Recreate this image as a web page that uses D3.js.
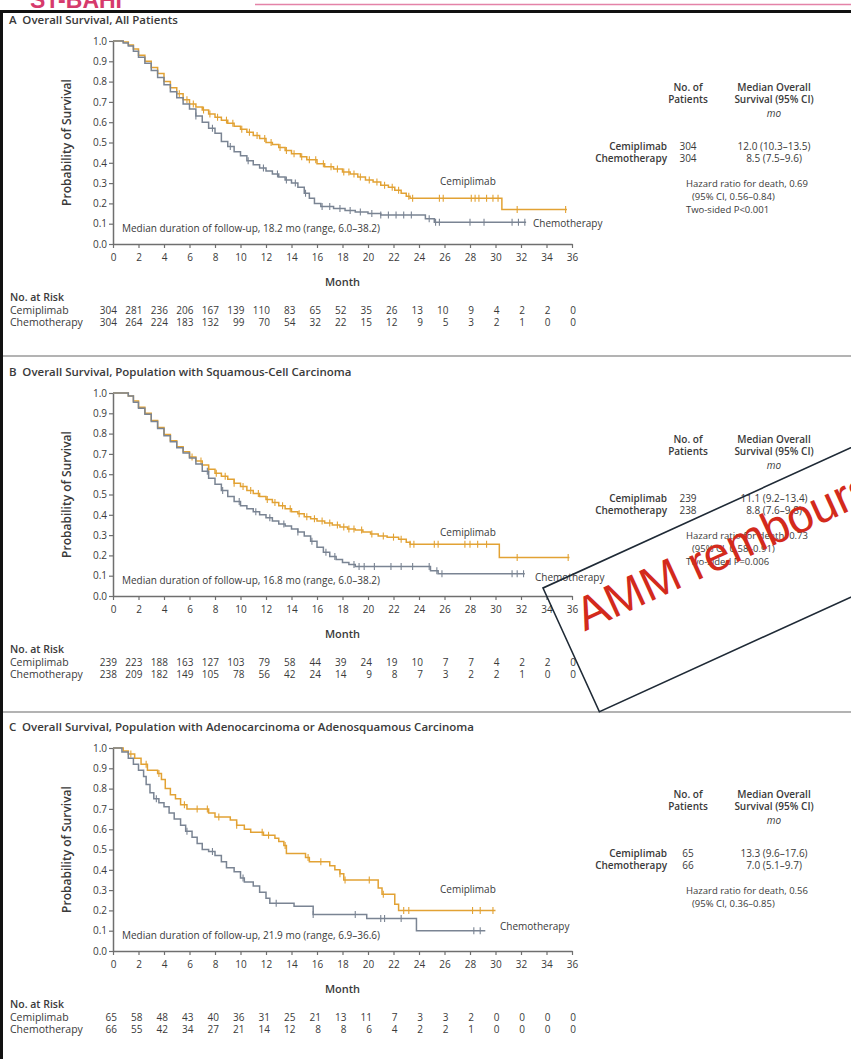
<!DOCTYPE html>
<html>
<head>
<meta charset="utf-8">
<script src="https://cdn.jsdelivr.net/npm/d3@7"></script>
<style>
  body { margin: 0; background: #fff; }
  svg { display: block; }
  text { font-family: "Open Sans", sans-serif; fill: #3a3a3a; }
</style>
</head>
<body>
<svg id="chart" width="851" height="1059"></svg>
<script>
// ---- data ----
const monthTicks = d3.range(0, 37, 2);
const survTicks = d3.range(0, 11).map(d => d / 10);
const armNames = ["Cemiplimab", "Chemotherapy"];

const titleA = "A\u2002Overall Survival, All Patients";
const titleB = "B\u2002Overall Survival, Population with Squamous-Cell Carcinoma";
const titleC = "C\u2002Overall Survival, Population with Adenocarcinoma or Adenosquamous Carcinoma";

const followA = "Median duration of follow-up, 18.2 mo (range, 6.0–38.2)";
const followB = "Median duration of follow-up, 16.8 mo (range, 6.0–38.2)";
const followC = "Median duration of follow-up, 21.9 mo (range, 6.9–36.6)";

// [month, probability of survival]
const kmA_cemi = [[0,1],[0.8,0.995],[1.2,0.98],[1.6,0.96],[2,0.93],[2.5,0.9],[3,0.87],[3.5,0.84],[4,0.8],[4.5,0.77],[5,0.74],[5.5,0.71],[6,0.69],[6.5,0.675],[7,0.66],[7.5,0.64],[8,0.625],[8.5,0.61],[9,0.595],[9.5,0.58],[10,0.565],[10.5,0.55],[11,0.535],[11.5,0.52],[12,0.5],[12.5,0.49],[13,0.475],[13.5,0.46],[14,0.445],[14.7,0.43],[15.2,0.415],[16,0.395],[16.6,0.38],[17.3,0.37],[18,0.355],[18.6,0.345],[19.2,0.33],[19.8,0.315],[20.4,0.305],[21,0.29],[21.6,0.28],[22.1,0.265],[22.6,0.25],[23,0.235],[23.3,0.225],[30.5,0.17],[35.6,0.17]];
const kmA_chemo = [[0,1],[0.8,0.99],[1.2,0.975],[1.6,0.95],[2,0.92],[2.5,0.89],[3,0.855],[3.5,0.82],[4,0.785],[4.5,0.75],[5,0.72],[5.5,0.69],[6,0.665],[6.5,0.63],[7,0.6],[7.5,0.57],[8,0.545],[8.5,0.505],[9,0.48],[9.5,0.455],[10,0.435],[10.5,0.41],[11,0.39],[11.5,0.375],[12,0.36],[12.5,0.345],[13,0.33],[13.5,0.315],[14,0.3],[14.5,0.28],[15,0.25],[15.4,0.225],[15.8,0.2],[16.3,0.185],[17.3,0.175],[18.2,0.165],[19,0.158],[20,0.15],[21,0.143],[24.5,0.125],[25.2,0.107],[32.4,0.107]];
const censA_cemi = [5.2,5.8,6.3,7.1,7.6,8.2,8.9,9.4,10.1,10.7,11.3,11.9,12.4,13.1,13.6,14.2,14.8,15.4,15.9,16.5,17.1,17.6,18.1,18.5,18.9,19.4,20.1,20.7,21.3,21.9,22.4,23.2,23.5,25.6,25.9,28.1,28.4,28.7,29.3,29.8,30.2,31.7,35.5];
const censA_chemo = [6.5,7.8,9.2,10.6,11.8,12.9,13.6,14.3,15.1,16.4,17.0,17.8,18.6,19.4,20.3,21.0,21.6,22.2,22.8,23.4,24.8,25.3,25.6,28.0,29.1,31.3,31.8,32.3];

const kmB_cemi = [[0,1],[1.2,0.985],[1.6,0.96],[2,0.93],[2.5,0.9],[3,0.865],[3.5,0.83],[4,0.795],[4.5,0.765],[5,0.735],[5.5,0.71],[6,0.685],[6.5,0.665],[7,0.645],[7.5,0.625],[8,0.605],[8.5,0.59],[9,0.575],[9.5,0.555],[10,0.54],[10.5,0.52],[11,0.505],[11.5,0.49],[12,0.475],[12.5,0.46],[13,0.445],[13.5,0.43],[14,0.415],[14.5,0.405],[15,0.39],[15.5,0.38],[16,0.37],[16.6,0.36],[17.2,0.35],[17.8,0.34],[18.4,0.33],[19,0.325],[19.6,0.315],[20.2,0.305],[20.8,0.295],[21.5,0.29],[22.4,0.28],[23,0.265],[23.3,0.255],[30.3,0.19],[35.8,0.19]];
const kmB_chemo = [[0,1],[1.2,0.985],[1.6,0.955],[2,0.925],[2.5,0.895],[3,0.86],[3.5,0.825],[4,0.79],[4.5,0.76],[5,0.73],[5.5,0.705],[6,0.68],[6.5,0.65],[7,0.615],[7.5,0.58],[8,0.55],[8.5,0.52],[9,0.49],[9.5,0.465],[10,0.445],[10.5,0.43],[11,0.415],[11.5,0.4],[12,0.385],[12.5,0.37],[13,0.355],[13.5,0.345],[14,0.33],[14.5,0.315],[15,0.295],[15.5,0.27],[16,0.24],[16.5,0.215],[17,0.195],[17.5,0.18],[18,0.165],[18.5,0.155],[19,0.145],[24.9,0.125],[25.5,0.11],[32.3,0.11]];
const censB_cemi = [6.2,6.9,7.5,8.1,8.8,9.5,10.2,10.8,11.4,12.1,12.7,13.3,13.9,14.6,15.2,15.8,16.4,17.0,17.6,18.1,18.5,18.9,19.5,20.3,21.2,22.0,22.6,23.3,23.6,25.2,25.5,27.6,28.0,28.6,29.3,31.7,35.7];
const censB_chemo = [7.4,8.6,9.9,11.2,12.3,13.4,14.5,15.6,16.7,17.4,18.9,19.3,19.7,20.5,21.8,22.6,23.5,24.8,25.4,25.8,31.3,31.7,32.2];

const kmC_cemi = [[0,1],[0.8,0.985],[1.2,0.97],[1.7,0.95],[2.2,0.92],[2.7,0.89],[3.5,0.875],[3.8,0.845],[4.1,0.8],[4.5,0.77],[4.9,0.75],[5.3,0.72],[5.8,0.7],[7.5,0.68],[8,0.66],[9.2,0.645],[9.7,0.62],[10.3,0.6],[10.8,0.585],[11.8,0.57],[12.7,0.555],[13,0.54],[13.4,0.52],[13.6,0.48],[15.1,0.46],[15.4,0.44],[17,0.42],[17.4,0.4],[17.8,0.38],[18.1,0.35],[20.8,0.31],[21.1,0.28],[22.1,0.23],[22.4,0.2],[30,0.2]];
const kmC_chemo = [[0,1],[0.7,0.98],[1.2,0.95],[1.6,0.92],[2,0.89],[2.4,0.86],[2.6,0.82],[2.9,0.78],[3.2,0.75],[3.6,0.73],[4,0.71],[4.4,0.68],[4.8,0.65],[5.3,0.62],[5.7,0.59],[6.2,0.56],[6.6,0.53],[7,0.5],[7.5,0.49],[8,0.47],[8.5,0.44],[8.9,0.41],[9.5,0.39],[10,0.36],[10.3,0.34],[11,0.32],[11.5,0.29],[12,0.26],[12.3,0.235],[14.2,0.22],[15.7,0.18],[19.9,0.16],[23.8,0.1],[29.2,0.1]];
const censC_cemi = [1.4,2.6,3.6,5.6,6.6,7.4,8.3,9.7,11.7,12.2,13.5,15.3,16.3,17.8,18.2,20.1,21.2,22.8,23.2,28.2,28.8,29.8];
const censC_chemo = [3.4,5.8,7.8,10.2,12.8,15.7,19.0,21.0,21.3,22.6,28.3,28.8];

// numbers at risk, one value per monthTicks entry
const riskA_cemi  = [304,281,236,206,167,139,110,83,65,52,35,26,13,10,9,4,2,2,0];
const riskA_chemo = [304,264,224,183,132,99,70,54,32,22,15,12,9,5,3,2,1,0,0];
const riskB_cemi  = [239,223,188,163,127,103,79,58,44,39,24,19,10,7,7,4,2,2,0];
const riskB_chemo = [238,209,182,149,105,78,56,42,24,14,9,8,7,3,2,2,1,0,0];
const riskC_cemi  = [65,58,48,43,40,36,31,25,21,13,11,7,3,3,2,0,0,0,0];
const riskC_chemo = [66,55,42,34,27,21,14,12,8,8,6,4,2,2,1,0,0,0,0];

// side tables
const patientsA = [304, 304];
const patientsB = [239, 238];
const patientsC = [65, 66];
const medianA = ["12.0 (10.3–13.5)", "8.5 (7.5–9.6)"];
const medianB = ["11.1 (9.2–13.4)", "8.8 (7.6–9.8)"];
const medianC = ["13.3 (9.6–17.6)", "7.0 (5.1–9.7)"];
const hazardA = ["Hazard ratio for death, 0.69", "(95% CI, 0.56–0.84)", "Two-sided P<0.001"];
const hazardB = ["Hazard ratio for death, 0.73", "(95% CI, 0.58–0.91)", "Two-sided P=0.006"];
const hazardC = ["Hazard ratio for death, 0.56", "(95% CI, 0.36–0.85)"];

const orange = "#e2a234";
const grey = "#7a8493";

const panels = [
  { top: 0,   title: titleA, follow: followA, km: [kmA_cemi, kmA_chemo], cens: [censA_cemi, censA_chemo], risk: [riskA_cemi, riskA_chemo], n: patientsA, med: medianA, hr: hazardA, lab: [[440,185],[533,227]] },
  { top: 352, title: titleB, follow: followB, km: [kmB_cemi, kmB_chemo], cens: [censB_cemi, censB_chemo], risk: [riskB_cemi, riskB_chemo], n: patientsB, med: medianB, hr: hazardB, lab: [[440,184],[535,229]] },
  { top: 707, title: titleC, follow: followC, km: [kmC_cemi, kmC_chemo], cens: [censC_cemi, censC_chemo], risk: [riskC_cemi, riskC_chemo], n: patientsC, med: medianC, hr: hazardC, lab: [[440,186],[500,223]] }
];

const svg = d3.select("#chart");

// slide remnants above the figure frame
svg.append("clipPath").attr("id", "topclip").append("rect").attr("x", 0).attr("y", 0).attr("width", 851).attr("height", 9);
svg.append("text").attr("clip-path", "url(#topclip)")
  .attr("x", 30).attr("y", 7.5).style("font-family", "Liberation Sans").style("font-weight", "bold")
  .style("font-size", "23px").style("fill", "#d63a6c").text("ST-BAHI");
svg.append("line").attr("x1", 255).attr("x2", 851).attr("y1", 4.5).attr("y2", 4.5).attr("stroke", "#e483a8").attr("stroke-width", 1.5);

// frame
svg.append("line").attr("x1", 0).attr("x2", 851).attr("y1", 11.5).attr("y2", 11.5).attr("stroke", "#111").attr("stroke-width", 3);
svg.append("line").attr("x1", 1.5).attr("x2", 1.5).attr("y1", 10).attr("y2", 1059).attr("stroke", "#111").attr("stroke-width", 3);
[356, 712].forEach(yy => {
  svg.append("line").attr("x1", 3).attr("x2", 851).attr("y1", yy).attr("y2", yy).attr("stroke", "#9a9a9a").attr("stroke-width", 1.5);
});

const x = d3.scaleLinear().domain([0, 36]).range([113, 572]);
const y = d3.scaleLinear().domain([0, 1]).range([244, 41]);
const line = d3.line().x(d => x(d[0])).y(d => y(d[1])).curve(d3.curveStepAfter);

function survAt(km, t) {
  let s = km[0][1];
  km.forEach(p => { if (p[0] <= t) s = p[1]; });
  return s;
}

panels.forEach(p => {
  const g = svg.append("g").attr("transform", `translate(0,${p.top})`);

  g.append("text").attr("x", 9).attr("y", 24).style("font-size", "11.5px").style("font-weight", 600).text(p.title);

  // axes
  const ya = g.append("g").attr("transform", `translate(${x(0)},0)`)
    .call(d3.axisLeft(y).tickValues(survTicks).tickFormat(d3.format(".1f")).tickSize(4).tickSizeOuter(0).tickPadding(2));
  const xa = g.append("g").attr("transform", `translate(0,${y(0)})`)
    .call(d3.axisBottom(x).tickValues(monthTicks).tickFormat(d3.format("d")).tickSize(4).tickSizeOuter(0).tickPadding(6));
  [ya, xa].forEach(a => {
    a.select(".domain").attr("stroke", "#6f6f6f").attr("stroke-width", 1.5);
    a.selectAll(".tick line").attr("stroke", "#6f6f6f").attr("stroke-width", 1.2);
    a.selectAll(".tick text").style("font-size", "10px").style("fill", "#3a3a3a");
  });

  g.append("text").attr("transform", `translate(71,${(y(0) + y(1)) / 2}) rotate(-90)`)
    .attr("text-anchor", "middle").style("font-size", "12px").style("font-weight", 600).text("Probability of Survival");
  g.append("text").attr("x", x(18)).attr("y", 286).attr("text-anchor", "middle")
    .style("font-size", "11px").style("font-weight", 600).text("Month");

  g.append("text").attr("x", x(0.7)).attr("y", 232).style("font-size", "10px").text(p.follow);

  // curves: chemotherapy drawn over cemiplimab
  [0, 1].forEach(i => {
    const col = i === 0 ? orange : grey;
    g.append("path").datum(p.km[i]).attr("d", line).attr("fill", "none")
      .attr("stroke", col).attr("stroke-width", 1.5);
    g.append("g").selectAll("line").data(p.cens[i]).join("line")
      .attr("x1", d => x(d)).attr("x2", d => x(d))
      .attr("y1", d => y(survAt(p.km[i], d)) - 3.5).attr("y2", d => y(survAt(p.km[i], d)) + 3.5)
      .attr("stroke", col).attr("stroke-width", 1.1);
    g.append("text").attr("x", p.lab[i][0]).attr("y", p.lab[i][1]).style("font-size", "10px").text(armNames[i]);
  });

  // numbers at risk
  g.append("text").attr("x", 10).attr("y", 301).style("font-size", "10.5px").style("font-weight", 600).text("No. at Risk");
  [0, 1].forEach(i => {
    const ry = 314 + i * 12;
    g.append("text").attr("x", 10).attr("y", ry).style("font-size", "10.5px").text(armNames[i]);
    g.append("g").selectAll("text").data(p.risk[i]).join("text")
      .attr("x", (d, j) => x(monthTicks[j]) + 4).attr("y", ry).attr("text-anchor", "end")
      .style("font-size", "10px").text(d => d);
  });

  // side table
  const t = g.append("g").style("font-size", "10px");
  t.append("text").attr("x", 688).attr("y", 91).attr("text-anchor", "middle").style("font-weight", 600).text("No. of");
  t.append("text").attr("x", 688).attr("y", 103).attr("text-anchor", "middle").style("font-weight", 600).text("Patients");
  t.append("text").attr("x", 774).attr("y", 91).attr("text-anchor", "middle").style("font-weight", 600).text("Median Overall");
  t.append("text").attr("x", 774).attr("y", 103).attr("text-anchor", "middle").style("font-weight", 600).text("Survival (95% CI)");
  t.append("text").attr("x", 774).attr("y", 117).attr("text-anchor", "middle").style("font-style", "italic").text("mo");
  [0, 1].forEach(i => {
    const ry = 150 + i * 12;
    t.append("text").attr("x", 667).attr("y", ry).attr("text-anchor", "end").style("font-weight", 600).text(armNames[i]);
    t.append("text").attr("x", 688).attr("y", ry).attr("text-anchor", "middle").text(p.n[i]);
    t.append("text").attr("x", 774).attr("y", ry).attr("text-anchor", "middle").text(p.med[i]);
  });
  p.hr.forEach((s, i) => {
    t.append("text").attr("x", i === 1 ? 692 : 686).attr("y", 187 + i * 13).style("font-size", "9.5px").text(s);
  });
});

// "AMM rembour..." stamp
const stamp = svg.append("g").attr("transform", "translate(543,588) rotate(-24.5)");
stamp.append("rect").attr("x", 0).attr("y", 0).attr("width", 420).attr("height", 136)
  .attr("fill", "none").attr("stroke", "#1f2a36").attr("stroke-width", 1.6);
stamp.append("text").attr("x", 20).attr("y", 57)
  .style("font-family", "Liberation Sans").style("font-size", "47px").style("fill", "#d32a1c")
  .text("AMM remboursé");
</script>
</body>
</html>
